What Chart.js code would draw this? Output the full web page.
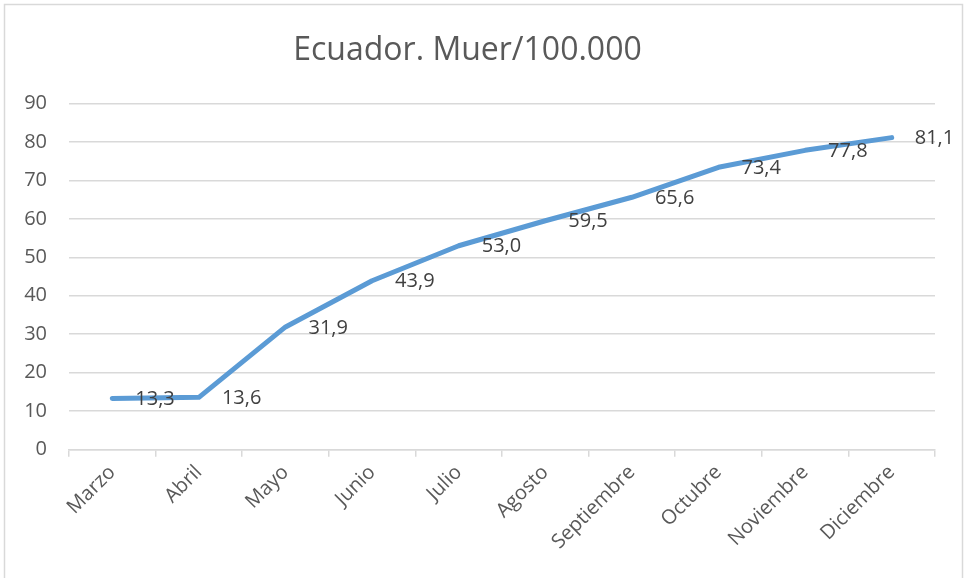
<!DOCTYPE html>
<html>
<head>
    <title>Ecuador. Muer/100.000</title>
    <script src="https://cdn.jsdelivr.net/npm/chart.js"></script>
    <style>
        body { margin: 0; background: #fff; }
    </style>
</head>
<body>
    <canvas id="muerChart" width="965" height="578"></canvas>
    <script>
        const meses = ['Marzo', 'Abril', 'Mayo', 'Junio', 'Julio', 'Agosto',
                       'Septiembre', 'Octubre', 'Noviembre', 'Diciembre'];
        const muertes = [13.3, 13.6, 31.9, 43.9, 53.0, 59.5, 65.6, 73.4, 77.8, 81.1];
        const yTicks = [0, 10, 20, 30, 40, 50, 60, 70, 80, 90];

        const FONT = '"Open Sans", sans-serif';

        // outer frame like the spreadsheet chart box
        const frame = {
            id: 'frame',
            beforeDraw(chart) {
                const c = chart.ctx;
                c.save();
                c.fillStyle = '#fff';
                c.fillRect(0, 0, chart.width, chart.height);
                c.strokeStyle = '#d9d9d9';
                c.lineWidth = 1.5;
                c.strokeRect(4.5, 4.5, 958, chart.height + 10);
                c.restore();
            }
        };

        // value labels to the right of each point, decimal comma
        const etiquetas = {
            id: 'etiquetas',
            afterDatasetsDraw(chart) {
                const c = chart.ctx;
                const meta = chart.getDatasetMeta(0);
                c.save();
                c.font = '20px ' + FONT;
                c.fillStyle = '#404040';
                c.textAlign = 'left';
                c.textBaseline = 'middle';
                meta.data.forEach((pt, i) => {
                    const txt = muertes[i].toFixed(1).replace('.', ',');
                    c.fillText(txt, pt.x + 23, pt.y + 1);
                });
                c.restore();
            }
        };

        const ctx = document.getElementById('muerChart').getContext('2d');
        const chart = new Chart(ctx, {
            type: 'line',
            data: {
                labels: meses,
                datasets: [{
                    label: 'Muer/100.000',
                    data: muertes,
                    borderColor: '#5b9bd5',
                    borderWidth: 5,
                    borderCapStyle: 'round',
                    borderJoinStyle: 'round',
                    pointRadius: 0,
                    tension: 0,
                    fill: false
                }]
            },
            options: {
                responsive: false,
                animation: false,
                layout: {
                    padding: { left: 0, right: 30, top: 0, bottom: 20 }
                },
                plugins: {
                    legend: { display: false },
                    tooltip: { enabled: false },
                    title: {
                        display: true,
                        text: 'Ecuador. Muer/100.000',
                        color: '#595959',
                        font: { family: FONT, size: 32, weight: 'normal' },
                        padding: { top: 32, bottom: 33 }
                    }
                },
                scales: {
                    x: {
                        offset: true,
                        grid: {
                            offset: true,
                            drawOnChartArea: false,
                            drawTicks: true,
                            tickLength: 7,
                            color: '#d9d9d9',
                            lineWidth: 1.5
                        },
                        border: { color: '#d9d9d9', width: 1.5 },
                        ticks: {
                            color: '#595959',
                            font: { family: FONT, size: 20 },
                            minRotation: 45,
                            maxRotation: 45,
                            padding: 4,
                            autoSkip: false
                        }
                    },
                    y: {
                        min: 0,
                        max: 90,
                        afterBuildTicks(scale) {
                            scale.ticks = yTicks.map(v => ({ value: v }));
                        },
                        afterFit(scale) {
                            scale.width = 69;
                        },
                        grid: {
                            color: '#d9d9d9',
                            lineWidth: 1.5,
                            drawTicks: false
                        },
                        border: { display: false },
                        ticks: {
                            color: '#595959',
                            font: { family: FONT, size: 20 },
                            padding: 22
                        }
                    }
                }
            },
            plugins: [frame, etiquetas]
        });
    </script>
</body>
</html>
